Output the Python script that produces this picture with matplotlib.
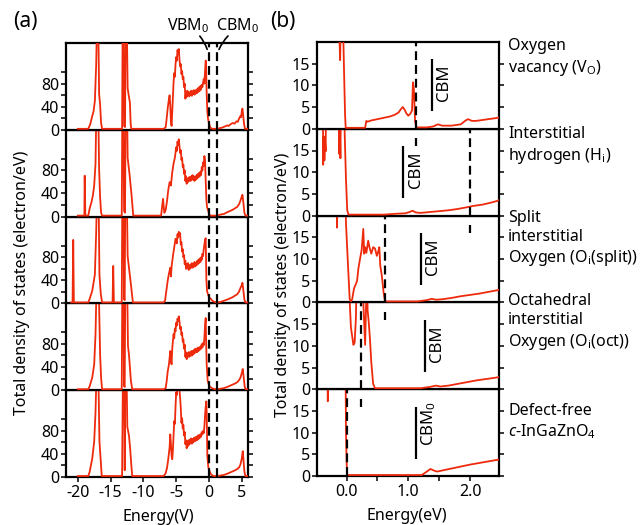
import numpy as np
import matplotlib
matplotlib.use("Agg")
import matplotlib.pyplot as plt
from matplotlib.patches import FancyArrowPatch
from matplotlib.transforms import (Bbox, TransformedBbox, ScaledTranslation,
                                   blended_transform_factory)

plt.rcParams["font.family"] = ["Noto Sans", "DejaVu Sans"]
plt.rcParams["mathtext.fontset"] = "custom"
plt.rcParams["mathtext.rm"] = "Noto Sans"
plt.rcParams["mathtext.it"] = "Noto Sans:italic"
plt.rcParams["mathtext.bf"] = "Noto Sans:bold"
plt.rcParams["axes.unicode_minus"] = False

# ---------------------------------------------------------------------------
# (a) total DOS over the full energy range: (energy eV, DOS electron/eV)
# ---------------------------------------------------------------------------
dos_a_vo = [
    (-20.0, 0), (-18.4, 0), (-18.1, 8), (-17.8, 22), (-17.6, 30), (-17.4, 48), (-17.2, 110),
    (-17.05, 200), (-16.9, 200), (-16.75, 60), (-16.6, 42), (-16.45, 10), (-16.3, 0),
    (-13.25, 0), (-13.15, 200), (-13.05, 200), (-12.95, 5), (-12.8, 3), (-12.7, 200),
    (-12.55, 200), (-12.4, 70), (-12.2, 55), (-12.05, 45), (-11.95, 10), (-11.85, 0),
    (-6.9, 0), (-6.6, 3), (-6.45, 18), (-6.3, 35), (-6.1, 52), (-6.0, 58), (-5.9, 40),
    (-5.8, 12), (-5.7, 5), (-5.6, 30), (-5.5, 55), (-5.4, 80), (-5.3, 96), (-5.2, 90),
    (-5.1, 112), (-5.0, 124), (-4.9, 118), (-4.8, 136), (-4.7, 130), (-4.6, 138), (-4.5, 120),
    (-4.4, 108), (-4.3, 112), (-4.2, 95), (-4.1, 100), (-4.0, 86), (-3.9, 90), (-3.8, 72),
    (-3.7, 78), (-3.6, 52), (-3.5, 62), (-3.4, 55), (-3.3, 66), (-3.2, 58), (-3.1, 64),
    (-3.0, 56), (-2.9, 63), (-2.8, 58), (-2.7, 66), (-2.6, 57), (-2.5, 65), (-2.4, 60),
    (-2.3, 67), (-2.2, 59), (-2.1, 66), (-2.0, 61), (-1.9, 68), (-1.8, 62), (-1.7, 70),
    (-1.6, 64), (-1.5, 72), (-1.4, 66), (-1.3, 74), (-1.2, 68), (-1.1, 76), (-1.0, 72),
    (-0.9, 80), (-0.8, 86), (-0.7, 78), (-0.6, 100), (-0.5, 118), (-0.45, 112), (-0.35, 60),
    (-0.25, 30), (-0.15, 18), (-0.05, 12), (0.1, 5), (0.3, 1), (0.5, 0),
    (1.3, 0), (1.6, 1), (2.0, 2), (2.4, 4), (2.8, 6), (3.0, 5), (3.3, 8), (3.6, 10), (3.9, 9),
    (4.2, 13), (4.4, 12), (4.6, 18), (4.8, 22), (4.9, 20), (5.0, 30), (5.1, 35), (5.2, 25),
    (5.35, 8), (5.5, 0), (5.9, 0),
]

dos_a_hi = [
    (-20.0, 0), (-19.0, 0), (-18.95, 69), (-18.85, 0), (-18.4, 0), (-18.2, 12), (-17.9, 24),
    (-17.7, 35), (-17.5, 52), (-17.3, 90), (-17.15, 200), (-16.9, 200), (-16.75, 80),
    (-16.6, 32), (-16.45, 5), (-16.3, 0),
    (-13.3, 0), (-13.2, 200), (-13.05, 200), (-12.95, 8), (-12.8, 5), (-12.7, 200),
    (-12.5, 200), (-12.4, 100), (-12.1, 70), (-11.8, 35), (-11.55, 0),
    (-7.3, 0), (-7.1, 20), (-7.0, 29), (-6.9, 15), (-6.8, 5), (-6.6, 10), (-6.4, 25),
    (-6.2, 45), (-6.0, 58), (-5.8, 52), (-5.6, 75), (-5.4, 90), (-5.2, 100), (-5.0, 118),
    (-4.9, 112), (-4.8, 128), (-4.7, 122), (-4.6, 132), (-4.5, 120), (-4.4, 108), (-4.3, 113),
    (-4.2, 96), (-4.1, 100), (-4.0, 84), (-3.9, 88), (-3.8, 72), (-3.7, 78), (-3.6, 60),
    (-3.5, 68), (-3.4, 55), (-3.3, 64), (-3.2, 58), (-3.1, 66), (-3.0, 60), (-2.9, 67),
    (-2.8, 60), (-2.7, 68), (-2.6, 62), (-2.5, 70), (-2.4, 62), (-2.3, 68), (-2.2, 60),
    (-2.1, 66), (-2.0, 62), (-1.9, 70), (-1.8, 64), (-1.7, 72), (-1.6, 66), (-1.5, 74),
    (-1.4, 68), (-1.3, 76), (-1.2, 70), (-1.1, 84), (-1.0, 78), (-0.9, 92), (-0.8, 86),
    (-0.7, 103), (-0.6, 96), (-0.5, 60), (-0.4, 28), (-0.3, 15), (-0.1, 8), (0.0, 3), (0.2, 0),
    (1.3, 0), (1.8, 2), (2.3, 3), (2.8, 6), (3.2, 8), (3.6, 10), (4.0, 13), (4.3, 15),
    (4.6, 20), (4.8, 26), (5.0, 33), (5.1, 36), (5.25, 22), (5.4, 5), (5.55, 0), (5.9, 0),
]

dos_a_split = [
    (-21.0, 0), (-20.8, 0), (-20.7, 108), (-20.6, 0), (-18.4, 0), (-18.2, 6), (-17.8, 20),
    (-17.4, 48), (-17.2, 120), (-17.05, 200), (-16.85, 200), (-16.7, 48), (-16.5, 15),
    (-16.3, 0), (-14.7, 0), (-14.6, 63), (-14.5, 0),
    (-13.3, 0), (-13.2, 200), (-13.05, 200), (-12.95, 6), (-12.85, 4), (-12.75, 200),
    (-12.55, 200), (-12.4, 80), (-12.2, 60), (-11.9, 31), (-11.6, 0),
    (-6.9, 0), (-6.7, 3), (-6.5, 20), (-6.3, 37), (-6.1, 50), (-5.9, 60), (-5.8, 45),
    (-5.7, 62), (-5.5, 80), (-5.3, 95), (-5.1, 110), (-4.9, 102), (-4.8, 118), (-4.7, 112),
    (-4.6, 122), (-4.5, 116), (-4.4, 120), (-4.3, 100), (-4.2, 104), (-4.1, 88), (-4.0, 92),
    (-3.9, 78), (-3.8, 82), (-3.7, 66), (-3.6, 72), (-3.5, 58), (-3.4, 66), (-3.3, 60),
    (-3.2, 68), (-3.1, 56), (-3.0, 64), (-2.9, 58), (-2.8, 66), (-2.7, 60), (-2.6, 68),
    (-2.5, 60), (-2.4, 66), (-2.3, 62), (-2.2, 70), (-2.1, 62), (-2.0, 68), (-1.9, 64),
    (-1.8, 72), (-1.7, 66), (-1.6, 74), (-1.5, 68), (-1.4, 76), (-1.3, 70), (-1.2, 78),
    (-1.1, 74), (-1.0, 84), (-0.9, 80), (-0.8, 92), (-0.7, 100), (-0.6, 108), (-0.5, 111),
    (-0.4, 40), (-0.3, 20), (-0.1, 12), (0.1, 8), (0.3, 6), (0.5, 3), (0.8, 1), (1.2, 0),
    (1.3, 0), (1.8, 1), (2.3, 3), (2.8, 5), (3.2, 7), (3.6, 9), (4.0, 12), (4.3, 14),
    (4.6, 19), (4.8, 25), (5.0, 30), (5.1, 34), (5.25, 20), (5.4, 5), (5.55, 0), (5.9, 0),
]

dos_a_oct = [
    (-20.0, 0), (-18.4, 0), (-18.2, 5), (-17.8, 20), (-17.5, 43), (-17.3, 95), (-17.1, 200),
    (-16.85, 200), (-16.6, 60), (-16.45, 20), (-16.3, 0),
    (-13.3, 0), (-13.2, 200), (-13.05, 200), (-12.95, 6), (-12.85, 4), (-12.75, 200),
    (-12.5, 200), (-12.35, 75), (-12.2, 60), (-11.9, 14), (-11.7, 0),
    (-6.9, 0), (-6.6, 2), (-6.45, 14), (-6.3, 30), (-6.1, 43), (-5.9, 66), (-5.8, 50),
    (-5.7, 43), (-5.6, 70), (-5.5, 83), (-5.4, 95), (-5.3, 88), (-5.2, 105), (-5.1, 100),
    (-5.0, 115), (-4.9, 110), (-4.8, 122), (-4.7, 118), (-4.6, 126), (-4.5, 117), (-4.4, 104),
    (-4.3, 108), (-4.2, 94), (-4.1, 98), (-4.0, 82), (-3.9, 86), (-3.8, 70), (-3.7, 77),
    (-3.6, 56), (-3.5, 64), (-3.4, 52), (-3.3, 62), (-3.2, 56), (-3.1, 64), (-3.0, 56),
    (-2.9, 64), (-2.8, 58), (-2.7, 66), (-2.6, 58), (-2.5, 66), (-2.4, 60), (-2.3, 68),
    (-2.2, 62), (-2.1, 70), (-2.0, 64), (-1.9, 70), (-1.8, 64), (-1.7, 72), (-1.6, 66),
    (-1.5, 72), (-1.4, 68), (-1.3, 74), (-1.2, 70), (-1.1, 78), (-1.0, 72), (-0.9, 80),
    (-0.8, 76), (-0.7, 88), (-0.6, 110), (-0.5, 123), (-0.45, 90), (-0.35, 43), (-0.2, 15),
    (-0.05, 9), (0.1, 5), (0.3, 3), (0.6, 1), (1.0, 0),
    (1.3, 0), (1.8, 1), (2.3, 2), (2.8, 4), (3.2, 6), (3.6, 8), (4.0, 10), (4.3, 12),
    (4.6, 16), (4.8, 20), (5.0, 28), (5.15, 35), (5.3, 20), (5.45, 4), (5.6, 0), (5.9, 0),
]

dos_a_free = [
    (-20.0, 0), (-18.4, 0), (-18.2, 7), (-17.8, 30), (-17.5, 60), (-17.3, 110), (-17.1, 200),
    (-16.9, 200), (-16.7, 60), (-16.5, 26), (-16.35, 0),
    (-13.25, 0), (-13.1, 200), (-12.95, 200), (-12.85, 10), (-12.75, 200), (-12.6, 200),
    (-12.45, 85), (-12.2, 70), (-12.0, 45), (-11.85, 20), (-11.7, 0),
    (-6.9, 0), (-6.6, 5), (-6.4, 14), (-6.2, 30), (-6.0, 50), (-5.9, 72), (-5.8, 55),
    (-5.7, 35), (-5.6, 29), (-5.5, 45), (-5.4, 70), (-5.3, 95), (-5.2, 90), (-5.1, 120),
    (-5.0, 145), (-4.9, 140), (-4.8, 170), (-4.7, 200), (-4.6, 175), (-4.5, 150), (-4.4, 135),
    (-4.3, 118), (-4.2, 92), (-4.1, 100), (-4.0, 82), (-3.9, 88), (-3.8, 70), (-3.7, 76),
    (-3.6, 55), (-3.5, 62), (-3.4, 48), (-3.3, 60), (-3.2, 52), (-3.1, 62), (-3.0, 54),
    (-2.9, 63), (-2.8, 57), (-2.7, 65), (-2.6, 56), (-2.5, 64), (-2.4, 58), (-2.3, 66),
    (-2.2, 60), (-2.1, 67), (-2.0, 61), (-1.9, 68), (-1.8, 62), (-1.7, 70), (-1.6, 64),
    (-1.5, 71), (-1.4, 66), (-1.3, 72), (-1.2, 68), (-1.1, 76), (-1.0, 72), (-0.9, 78),
    (-0.8, 74), (-0.7, 85), (-0.6, 105), (-0.5, 120), (-0.4, 129), (-0.35, 110), (-0.25, 35),
    (-0.1, 15), (0.05, 10), (0.2, 5), (0.4, 2), (0.7, 0),
    (1.3, 0), (1.8, 1), (2.3, 2), (2.8, 4), (3.2, 6), (3.6, 8), (4.0, 10), (4.3, 12),
    (4.6, 15), (4.8, 20), (5.0, 30), (5.15, 43), (5.25, 30), (5.4, 8), (5.55, 0), (5.9, 0),
]

# band edges of the defect-free crystal (eV)
vbm0 = 0.0
cbm0 = 1.2

# ---------------------------------------------------------------------------
# (b) close-up around the gap: (energy eV, DOS electron/eV)
# ---------------------------------------------------------------------------
dos_b_vo = [
    (-0.48, 30), (-0.12, 30), (-0.115, 20), (-0.105, 15.6), (-0.095, 25), (-0.06, 25),
    (-0.04, 12), (-0.025, 3), (-0.015, 0), (0.30, 0), (0.32, 1.6), (0.34, 1.4), (0.40, 1.7),
    (0.50, 2.0), (0.60, 2.3), (0.70, 2.6), (0.78, 3.0), (0.84, 3.5), (0.88, 4.3), (0.91, 4.8),
    (0.94, 4.2), (0.97, 3.3), (1.00, 2.8), (1.03, 3.2), (1.06, 4.0), (1.075, 10.5),
    (1.09, 9.0), (1.11, 1.5), (1.13, 0.1), (1.30, 0.1), (1.40, 0.3), (1.48, 0.8), (1.55, 0.5),
    (1.70, 0.5), (1.85, 0.8), (1.93, 1.7), (1.97, 2.0), (2.03, 1.6), (2.10, 1.6), (2.20, 1.8),
    (2.30, 2.0), (2.40, 2.2), (2.48, 2.4),
]

dos_b_hi = [
    (-0.40, 30), (-0.385, 30), (-0.38, 11.5), (-0.37, 18), (-0.36, 12.5), (-0.35, 17),
    (-0.34, 14.6), (-0.33, 30), (-0.13, 30), (-0.12, 14), (-0.11, 20), (-0.10, 13),
    (-0.09, 30), (-0.05, 30), (-0.03, 18), (-0.01, 8), (0.01, 1), (0.03, 0), (0.60, 0),
    (0.80, 0.2), (0.95, 0.3), (1.02, 0.6), (1.07, 0.9), (1.12, 0.5), (1.20, 0.4), (1.35, 0.6),
    (1.50, 0.8), (1.65, 1.0), (1.80, 1.3), (1.95, 1.7), (2.05, 2.0), (2.20, 2.3), (2.35, 2.8),
    (2.45, 3.2), (2.48, 3.4),
]

dos_b_split = [
    (-0.48, 30), (-0.165, 30), (-0.155, 17), (-0.145, 30), (-0.03, 30), (-0.01, 18),
    (0.02, 9), (0.05, 0.5), (0.07, 0), (0.09, 0.5), (0.12, 3), (0.15, 4), (0.17, 4.8),
    (0.19, 7.5), (0.22, 10), (0.245, 12), (0.27, 16.7), (0.285, 11), (0.30, 12.5), (0.32, 11.2),
    (0.35, 14), (0.37, 12.5), (0.40, 11), (0.43, 12.5), (0.46, 12.2), (0.49, 10.5),
    (0.51, 11.4), (0.53, 12.5), (0.545, 8.3), (0.57, 6), (0.60, 2), (0.62, 0.2), (0.65, 0),
    (1.15, 0), (1.30, 0.3), (1.38, 0.6), (1.45, 0.4), (1.55, 0.5), (1.70, 0.8), (1.85, 1.2),
    (2.00, 1.5), (2.15, 1.8), (2.30, 2.2), (2.45, 2.6), (2.48, 2.7),
]

dos_b_oct = [
    (-0.48, 30), (0.035, 30), (0.05, 20), (0.07, 14), (0.09, 12), (0.11, 10), (0.13, 10.5),
    (0.15, 16), (0.17, 30), (0.25, 30), (0.27, 20), (0.30, 10), (0.32, 22), (0.33, 30),
    (0.34, 18), (0.36, 15), (0.38, 11), (0.40, 6), (0.43, 1), (0.46, 0), (1.20, 0),
    (1.35, 0.3), (1.45, 0.6), (1.52, 0.4), (1.65, 0.6), (1.80, 1.0), (1.95, 1.4), (2.10, 1.8),
    (2.25, 2.1), (2.40, 2.4), (2.48, 2.6),
]

dos_b_free = [
    (-0.48, 30), (-0.315, 30), (-0.305, 17), (-0.295, 30), (-0.02, 30), (-0.01, 10),
    (0.0, 3), (0.01, 0), (1.22, 0), (1.30, 0.8), (1.36, 1.4), (1.42, 1.0), (1.47, 0.8),
    (1.60, 1.2), (1.80, 1.8), (2.00, 2.4), (2.20, 2.9), (2.40, 3.4), (2.48, 3.6),
]

# Fermi level of each cell (dashed) and conduction-band minimum marker (solid bar)
fermi_b = [1.12, 2.0, 0.62, 0.24, 0.0]
cbm_b = [1.38, 0.92, 1.2, 1.27, 1.13]
cbm_text = ["CBM", "CBM", "CBM", "CBM", r"CBM$_0$"]

defect_labels = [
    "Oxygen\nvacancy (V$_\\mathrm{O}$)",
    "Interstitial\nhydrogen (H$_\\mathrm{i}$)",
    "Split\ninterstitial\nOxygen (O$_\\mathrm{i}$(split))",
    "Octahedral\ninterstitial\nOxygen (O$_\\mathrm{i}$(oct))",
    "Defect-free\n$\\mathit{c}$-InGaZnO$_4$",
]
label_tops = [38, 126, 210, 293, 403]

left_xticks = [-20, -15, -10, -5, 0, 5]
left_xticklabels = ["-20", "-15", "-10", "-5", "0", "5"]
right_xticks = [0.0, 1.0, 2.0]
right_xticklabels = ["0.0", "1.0", "2.0"]

# ---------------------------------------------------------------------------
FS = 11.5
RED = "#ee2a0c"
W, H = 640.0, 525.0
ROW = 86.8

fig = plt.figure(figsize=(6.4, 5.25), dpi=100)


def px_axes(x0, y0, x1, y1):
    return fig.add_axes([x0 / W, 1 - y1 / H, (x1 - x0) / W, (y1 - y0) / H])


def px(x, y):
    return (x / W, 1 - y / H)


def style(ax):
    for s in ax.spines.values():
        s.set_linewidth(1.6)
    ax.tick_params(which="both", direction="out", length=3.5, width=1.1,
                   labelsize=FS, pad=1.5, left=True, right=True,
                   bottom=False, top=False, labelbottom=False)


def draw_dos(ax, pts):
    e, d = np.asarray(pts, dtype=float).T
    # lift the trace by a hair so its zero level rides on top of the frame line
    lift = ax.transData + ScaledTranslation(0, 0.7 / 72, fig.dpi_scale_trans)
    line, = ax.plot(e, d, color=RED, lw=1.3, zorder=3, transform=lift)
    line.set_clip_box(TransformedBbox(Bbox([[0, -0.005], [1, 1]]), ax.transAxes))


DASH = dict(color="black", lw=1.6, linestyle=(0, (4.0, 2.2)), zorder=4)

left_curves = [dos_a_vo, dos_a_hi, dos_a_split, dos_a_oct, dos_a_free]
right_curves = [dos_b_vo, dos_b_hi, dos_b_split, dos_b_oct, dos_b_free]

left_axes = [px_axes(66, 43 + i * ROW, 248, 43 + (i + 1) * ROW) for i in range(5)]
right_axes = [px_axes(317, 42 + i * ROW, 499, 42 + (i + 1) * ROW) for i in range(5)]

# ---- panel (a)
for i, (ax, pts) in enumerate(zip(left_axes, left_curves)):
    ax.set_zorder(10 - i)
    style(ax)
    draw_dos(ax, pts)
    ax.set_xlim(-21.8, 5.95)
    ax.set_ylim(0, 150)
    ax.set_yticks([0, 40, 80])
    ax.set_yticks([20, 60, 100], minor=True)
    ax.set_xticks([])
    ax.axvline(vbm0, **DASH)
    ax.axvline(cbm0, **DASH)

axb = left_axes[-1]
axb.set_xticks(left_xticks)
axb.set_xticklabels(left_xticklabels)
axb.tick_params(axis="x", bottom=True, labelbottom=True, pad=2)

# ---- panel (b)
for i, (ax, pts) in enumerate(zip(right_axes, right_curves)):
    ax.set_zorder(10 - i)
    style(ax)
    draw_dos(ax, pts)
    ax.set_xlim(-0.48, 2.47)
    ax.set_ylim(0, 20)
    ax.set_yticks([0, 5, 10, 15])
    ax.set_xticks([])
    ax.axvline(fermi_b[i], **DASH)
    ax.plot([cbm_b[i], cbm_b[i]], [4, 16], color="black", lw=1.6, zorder=4,
            solid_capstyle="butt")
    ax.annotate(cbm_text[i], xy=(cbm_b[i], 10.5 if i < 4 else 12.0),
                xytext=(9, 0), textcoords="offset points", rotation=90,
                ha="center", va="center", fontsize=12)
    if i > 0:
        tr = blended_transform_factory(ax.transData, ax.transAxes)
        ax.plot([fermi_b[i - 1]] * 2, [0.80, 0.89], transform=tr, color="black",
                lw=1.6, zorder=4, solid_capstyle="butt")
    fig.text(508 / W, 1 - label_tops[i] / H, defect_labels[i], ha="left", va="top",
             fontsize=FS, linespacing=1.25)

axr = right_axes[-1]
axr.set_xticks(right_xticks)
axr.set_xticklabels(right_xticklabels)
axr.set_xticks([0.5, 1.5], minor=True)
axr.tick_params(axis="x", which="both", bottom=True, labelbottom=True, pad=2)

# ---- shared text
ylab = "Total density of states (electron/eV)"
fig.text(*px(22, 283), ylab, rotation=90, ha="center", va="center", fontsize=FS)
fig.text(*px(283, 285), ylab, rotation=90, ha="center", va="center", fontsize=FS)
fig.text(*px(158, 517), "Energy(V)", ha="center", va="center", fontsize=FS)
fig.text(*px(407, 516), "Energy(eV)", ha="center", va="center", fontsize=FS)
fig.text(*px(25, 22), "(a)", ha="center", va="center", fontsize=15)
fig.text(*px(283, 21), "(b)", ha="center", va="center", fontsize=15)

fig.text(*px(188, 26), r"VBM$_0$", ha="center", va="center", fontsize=FS)
fig.text(*px(237, 26), r"CBM$_0$", ha="center", va="center", fontsize=FS)
for start, end, rad in [((198, 34), (208, 52), -0.12), ((230, 34), (218, 52), 0.12)]:
    fig.add_artist(FancyArrowPatch(px(*start), px(*end), transform=fig.transFigure,
                                   arrowstyle="-", connectionstyle=f"arc3,rad={rad}",
                                   lw=1.2, color="black", zorder=20))

fig.savefig("out.png", dpi=100)
